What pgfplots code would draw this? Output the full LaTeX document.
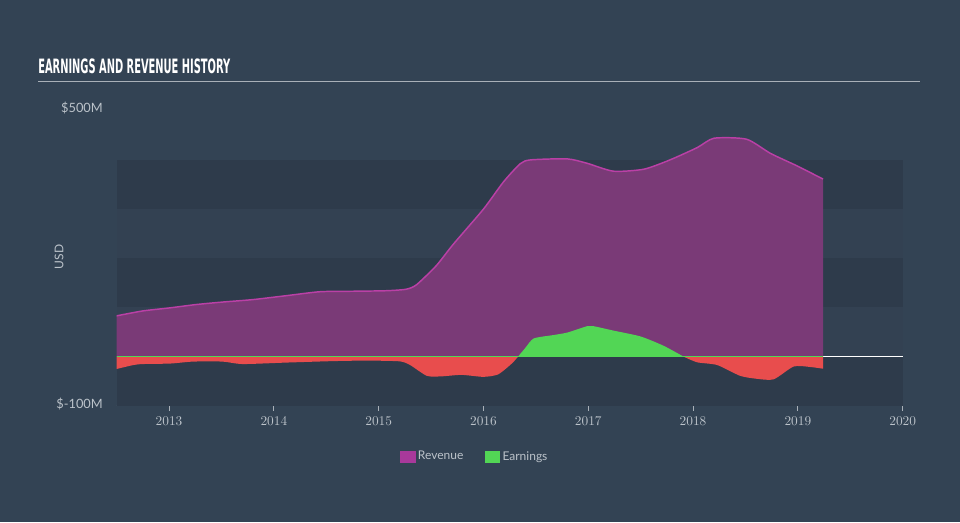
\documentclass[border=0pt]{standalone}
\usepackage{pgfplots}
\pgfplotsset{compat=1.18}
\usepackage{fontspec}
\setmainfont{Lato}
\newfontfamily\titlefont{DejaVu Sans Condensed Bold}
\definecolor{bg}{HTML}{334354}
\definecolor{bandd}{HTML}{2E3B4B}
\definecolor{bandl}{HTML}{334152}
\definecolor{revfill}{HTML}{7A3A77}
\definecolor{revline}{HTML}{BA40A6}
\definecolor{revleg}{HTML}{A8399B}
\definecolor{earnpos}{HTML}{52D655}
\definecolor{earnneg}{HTML}{E84D4D}
\definecolor{txt}{HTML}{BCC3CA}
\definecolor{axln}{HTML}{A9B0B8}
\begin{document}
\begin{tikzpicture}
\fill[bg] (0pt,0pt) rectangle (720pt,391.5pt);
% title
\node[anchor=base west, inner sep=0pt, text=white] at (28.5pt,336pt) {\resizebox{144pt}{11pt}{\titlefont EARNINGS AND REVENUE HISTORY}};
\draw[axln, line width=1.1pt] (28.5pt,330.2pt) -- (690pt,330.2pt);
\node[rotate=90, text=txt, font=\fontsize{9}{10}\selectfont] at (44.25pt,198.75pt) {USD};
\begin{axis}[
  at={(87.5pt,87.1pt)}, anchor=south west,
  scale only axis, width=589.5pt, height=221.4pt,
  xmin=2012.5, xmax=2020, ymin=-100, ymax=500,
  axis y line=none,
  axis x line*=bottom,
  x axis line style={axln, line width=0.8pt, -},
  xtick={2013,2014,2015,2016,2017,2018,2019,2020},
  xticklabel style={/pgf/number format/1000 sep={}, text=txt, font=\fontsize{9.6}{10}\selectfont, inner sep=0pt, anchor=north, yshift=-4.5pt},
  x tick style={axln, line width=0.8pt},
  tick align=outside, major tick length=3.75pt,
  ytick=\empty,
  clip=false,
  legend style={at={(axis description cs:0.456,-0.172)}, anchor=center, draw=none, fill=none, text=txt, font=\fontsize{9}{10}\selectfont, legend columns=2, /tikz/every even column/.append style={column sep=14pt}},
  legend image code/.code={\fill[#1] (0pt,-4pt) rectangle (11pt,4pt);},
]
\addlegendimage{revleg}
\addlegendimage{earnpos}
\legend{Revenue, Earnings}
% bands
\fill[bandd] (axis cs:2012.5,300) rectangle (axis cs:2020,400);
\fill[bandl] (axis cs:2012.5,200) rectangle (axis cs:2020,300);
\fill[bandd] (axis cs:2012.5,100) rectangle (axis cs:2020,200);
\fill[bandl] (axis cs:2012.5,0) rectangle (axis cs:2020,100);
\fill[bandd] (axis cs:2012.5,-100) rectangle (axis cs:2020,0);
\node[anchor=east, text=txt, font=\fontsize{9.6}{10}\selectfont, inner sep=0pt] at (axis cs:2012.37,505) {\$500M};
\node[anchor=east, text=txt, font=\fontsize{9.6}{10}\selectfont, inner sep=0pt] at (axis cs:2012.37,-96) {\$-100M};
% zero line
\draw[white, line width=0.9pt] (axis cs:2012.5,0) -- (axis cs:2020,0);
% revenue
\addplot[fill=revfill, draw=none, smooth, tension=0.4, forget plot] coordinates {
(2012.5,83)(2012.75,93)(2013.0,99)(2013.26,106)(2013.51,111)(2013.8,116)(2014.12,124)(2014.44,132)(2014.76,133)(2015.07,134)(2015.26,137)(2015.36,146)(2015.55,185)(2015.71,228)(2016.0,300)(2016.19,355)(2016.35,392)(2016.45,400)(2016.8,402)(2016.99,393)(2017.24,377)(2017.53,381)(2017.78,400)(2018.04,425)(2018.2,444)(2018.51,442)(2018.74,413)(2018.99,388)(2019.24,361)
} \closedcycle;
\addplot[revline, line width=1.1pt, smooth, tension=0.4, forget plot] coordinates {
(2012.5,83)(2012.75,93)(2013.0,99)(2013.26,106)(2013.51,111)(2013.8,116)(2014.12,124)(2014.44,132)(2014.76,133)(2015.07,134)(2015.26,137)(2015.36,146)(2015.55,185)(2015.71,228)(2016.0,300)(2016.19,355)(2016.35,392)(2016.45,400)(2016.8,402)(2016.99,393)(2017.24,377)(2017.53,381)(2017.78,400)(2018.04,425)(2018.2,444)(2018.51,442)(2018.74,413)(2018.99,388)(2019.24,361)
};
% earnings negative
\addplot[fill=earnneg, draw=none, smooth, tension=0.4, forget plot] coordinates {
(2012.5,-25)(2012.66,-17)(2012.75,-15)(2013.01,-14)(2013.23,-10)(2013.51,-10)(2013.7,-15)(2014.12,-12)(2014.57,-9)(2014.89,-8)(2015.2,-9.5)(2015.3,-17)(2015.46,-39)(2015.6,-40)(2015.79,-37)(2016.0,-41)(2016.14,-36)(2016.27,-14)(2016.33,0)
} \closedcycle;
\addplot[fill=earnneg, draw=none, smooth, tension=0.4, forget plot] coordinates {
(2017.91,0)(2018.04,-11.5)(2018.23,-17)(2018.45,-39)(2018.61,-45)(2018.77,-46)(2018.96,-20)(2019.12,-21)(2019.24,-24.5)
} \closedcycle;
% earnings positive
\addplot[fill=earnpos, draw=none, smooth, tension=0.4, forget plot] coordinates {
(2016.33,0)(2016.40,18)(2016.48,37)(2016.67,44)(2016.8,49)(2016.99,62)(2017.05,62)(2017.24,53)(2017.5,41)(2017.72,22)(2017.91,0)
} \closedcycle;
\addplot[earnpos, line width=0.7pt, forget plot] coordinates {(2012.5,0)(2019.24,0)};
\end{axis}
\end{tikzpicture}
\end{document}
